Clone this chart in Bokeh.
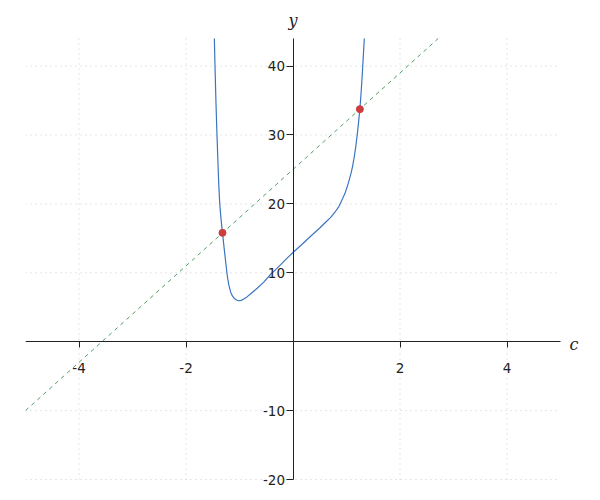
from bokeh.plotting import figure
from bokeh.models import LinearAxis, FixedTicker, Label, Range1d, Grid
from bokeh.embed import file_html
from bokeh.resources import INLINE

# Curve
curve_c = [-1.470, -1.458, -1.441, -1.421, -1.398, -1.386, -1.369, -1.348, -1.318, -1.286,
           -1.257, -1.235, -1.217, -1.196, -1.163, -1.130, -1.097, -1.057, -1.015, -0.970,
           -0.921, -0.860, -0.796, -0.730, -0.670, -0.547, -0.420, -0.320, -0.234, -0.120,
           0.0, 0.15, 0.33, 0.50, 0.62, 0.70, 0.78, 0.86, 0.93, 0.98,
           1.03, 1.077, 1.11, 1.14, 1.17, 1.20, 1.225, 1.25, 1.27, 1.29,
           1.31, 1.333]
curve_y = [44.0, 40.0, 35.0, 30.0, 25.0, 22.5, 20.0, 18.0, 15.8, 13.5,
           11.5, 10.0, 9.0, 8.1, 7.15, 6.6, 6.28, 6.05, 5.94, 6.0,
           6.19, 6.5, 6.91, 7.35, 7.75, 8.65, 9.75, 10.5, 11.15, 12.05,
           12.94, 14.0, 15.3, 16.5, 17.4, 18.0, 18.75, 19.65, 20.8, 21.7,
           22.9, 24.2, 25.3, 26.6, 28.1, 30.0, 31.8, 33.75, 35.8, 38.2,
           40.9, 44.0]

# Dashed straight line
line_c = [-5.0, 2.714]
line_y = [-10.0, 44.0]

# Intersection points
pts_c = [-1.318, 1.25]
pts_y = [15.8, 33.75]

x_ticks = [-4, -2, 2, 4]
y_ticks = [-20, -10, 10, 20, 30, 40]
x_lo, x_hi = -5.0, 5.0
y_lo, y_hi = -20.0, 44.0

# extra room (inside the frame) for the axis letters and the lowest tick label
x_extra = 30 * (x_hi - x_lo) / 535
y_extra_top = 30 * (y_hi - y_lo) / 441
y_extra_bot = 12 * (y_hi - y_lo) / 441

p = figure(frame_width=565, frame_height=483,
           x_range=Range1d(x_lo, x_hi + x_extra),
           y_range=Range1d(y_lo - y_extra_bot, y_hi + y_extra_top),
           output_backend="svg", toolbar_location=None,
           x_axis_location=None, y_axis_location=None,
           min_border_left=25, min_border_right=2,
           min_border_top=8, min_border_bottom=1)
p.outline_line_color = None
p.background_fill_color = "white"
p.border_fill_color = "white"
p.center = [r for r in p.center if not isinstance(r, Grid)]

grid_style = dict(line_color="#cccccc", line_dash="1 4", line_width=1)
p.segment(x0=x_ticks, y0=[y_lo] * len(x_ticks), x1=x_ticks, y1=[y_hi] * len(x_ticks), **grid_style)
p.segment(x0=[x_lo] * len(y_ticks), y0=y_ticks, x1=[x_hi] * len(y_ticks), y1=y_ticks, **grid_style)

axis_style = dict(axis_line_color="#222222", major_tick_line_color="#222222",
                  major_tick_in=0, minor_tick_out=0, minor_tick_in=0,
                  major_label_text_font="DejaVu Sans",
                  major_label_text_font_size="13.5px",
                  major_label_text_color="#222222")

xaxis = LinearAxis(fixed_location=0, ticker=FixedTicker(ticks=x_ticks), bounds=(x_lo, x_hi),
                   major_label_overrides={t: str(t) for t in x_ticks},
                   major_tick_out=6, major_label_standoff=15, **axis_style)
p.add_layout(xaxis, "below")
yaxis = LinearAxis(fixed_location=0, ticker=FixedTicker(ticks=y_ticks), bounds=(y_lo, y_hi),
                   major_label_overrides={t: str(t) for t in y_ticks},
                   major_tick_out=7, major_label_standoff=1, **axis_style)
p.add_layout(yaxis, "left")

p.line(line_c, line_y, line_color="#4f9e63", line_width=1, line_dash="4 4")
p.line(curve_c, curve_y, line_color="#3b75c2", line_width=1.2)
p.scatter(pts_c, pts_y, size=7, fill_color="#cc3d3d", line_color="#cc3d3d")

p.add_layout(Label(x=x_hi, y=0, text="c", x_offset=9, y_offset=-3,
                   text_align="left", text_baseline="middle",
                   text_font="DejaVu Serif", text_font_style="italic",
                   text_font_size="16px", text_color="#222222"))
p.add_layout(Label(x=0, y=y_hi, text="y", y_offset=18,
                   text_align="center", text_baseline="middle",
                   text_font="DejaVu Serif", text_font_style="italic",
                   text_font_size="16px", text_color="#222222"))

open("out.html", "w").write(file_html(p, INLINE))
